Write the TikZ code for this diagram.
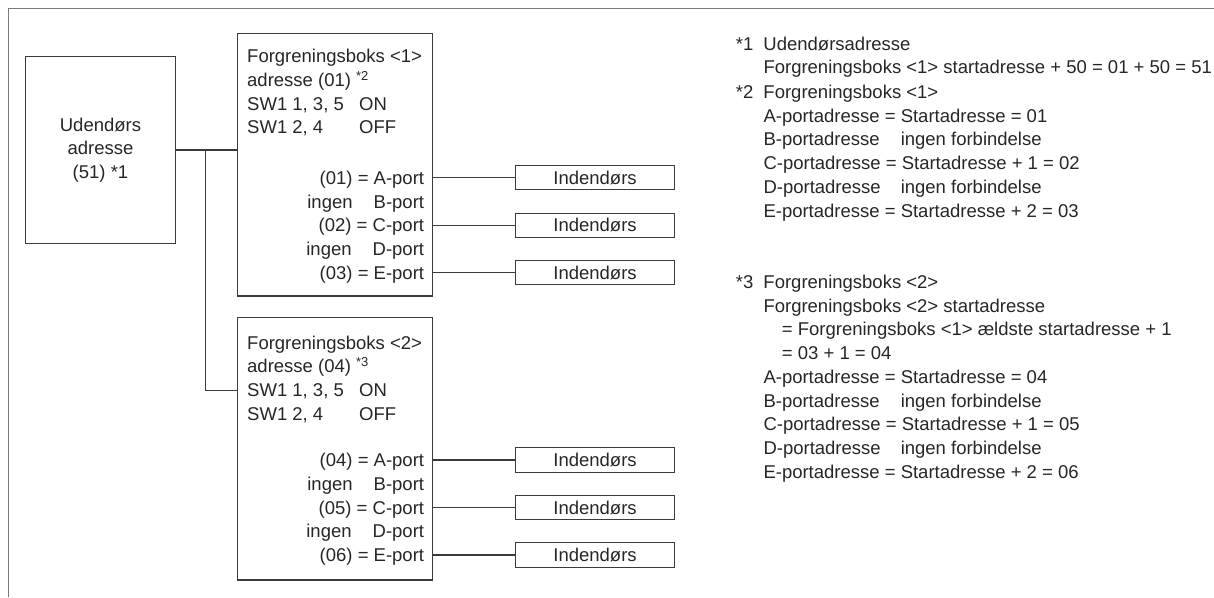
\documentclass[tikz,border=0pt]{standalone}
\usepackage{fontspec}
\setmainfont{Liberation Sans}
\usetikzlibrary{positioning,calc}
\definecolor{frameGray}{HTML}{7A7A7A}
\definecolor{lineGray}{HTML}{3A3A3A}
\definecolor{textGray}{HTML}{262626}
\newcommand{\notekey}[1]{\makebox[27.6pt][l]{#1}}
\newcommand{\noteind}{\hspace*{27.6pt}}
\tikzset{
  frame/.style={draw=frameGray, line width=1.4pt},
  txt/.style={font=\fontsize{18.5}{23.75}\selectfont, inner sep=0pt, text=textGray},
  box/.style={draw=lineGray, line width=1.1pt, rectangle, inner sep=0pt},
  portln/.style={txt, anchor=east, text height=13.2pt, text depth=0pt},
  indoor/.style={box, txt, minimum width=159pt, minimum height=24.3pt},
  link/.style={draw=lineGray, line width=1.1pt}
}

\begin{document}
\begin{tikzpicture}[x=1pt, y=-1pt]
  \useasboundingbox (0,0) rectangle (1214,597);
  \draw[frame] (8.3,597) -- (8.3,8.3) -- (1214,8.3);
  % outdoor unit
  \node[box, txt, align=center, minimum width=149.6pt, minimum height=186.6pt] (ub) at (100.5,150) {Udendørs\\adresse\\(51) *1};
  % branch box 1
  \node[box, minimum width=195pt, minimum height=262.3pt] (b1) at (335.2,164.85) {};
  \node[txt, align=left, anchor=north west] (b1head) at (247,49.1) {Forgreningsboks <1>\\adresse (01) \textsuperscript{*2}\\\makebox[112pt][l]{SW1 1, 3, 5}ON\\\makebox[112pt][l]{SW1 2, 4}OFF};
  \node[portln] (b1a) at (424.3,177.7) {(01) = A-port};
  \node[portln] (b1b) at (424.3,201.45) {ingen\hphantom{ = }B-port};
  \node[portln] (b1c) at (424.3,225.2) {(02) = C-port};
  \node[portln] (b1d) at (424.3,248.95) {ingen\hphantom{ = }D-port};
  \node[portln] (b1e) at (424.3,272.7) {(03) = E-port};
  \node[indoor, right=90.7pt of b1a] (in1a) {Indendørs};
  \node[indoor, right=90.7pt of b1c] (in1c) {Indendørs};
  \node[indoor, right=90.7pt of b1e] (in1e) {Indendørs};
  % branch box 2
  \node[box, minimum width=195pt, minimum height=262.7pt] (b2) at (335.2,448.65) {};
  \node[txt, align=left, anchor=north west] (b2head) at (247,335.4) {Forgreningsboks <2>\\adresse (04) \textsuperscript{*3}\\\makebox[112pt][l]{SW1 1, 3, 5}ON\\\makebox[112pt][l]{SW1 2, 4}OFF};
  \node[portln] (b2a) at (424.3,460) {(04) = A-port};
  \node[portln] (b2b) at (424.3,483.75) {ingen\hphantom{ = }B-port};
  \node[portln] (b2c) at (424.3,507.5) {(05) = C-port};
  \node[portln] (b2d) at (424.3,531.25) {ingen\hphantom{ = }D-port};
  \node[portln] (b2e) at (424.3,555) {(06) = E-port};
  \node[indoor, right=90.7pt of b2a] (in2a) {Indendørs};
  \node[indoor, right=90.7pt of b2c] (in2c) {Indendørs};
  \node[indoor, right=90.7pt of b2e] (in2e) {Indendørs};
  % wiring
  \coordinate (jn) at ($(ub.east)!0.49!(ub.east -| b1.west)$);
  \draw[link] (ub.east) -- (ub.east -| b1.west);
  \draw[link] (jn) |- ([yshift=-73.7pt]b2.north west);
  \draw[link] (b1.east |- b1a) -- (in1a);
  \draw[link] (b1.east |- b1c) -- (in1c);
  \draw[link] (b1.east |- b1e) -- (in1e);
  \draw[link] (b2.east |- b2a) -- (in2a);
  \draw[link] (b2.east |- b2c) -- (in2c);
  \draw[link] (b2.east |- b2e) -- (in2e);
  % notes
  \node[txt, align=left, anchor=north west] (n1) at (735.7,36.4) {\notekey{*1}Udendørsadresse\\
    \noteind Forgreningsboks <1> startadresse + 50 = 01 + 50 = 51};
  \node[txt, align=left, anchor=north west] (n2) at (735.7,84.8) {\notekey{*2}Forgreningsboks <1>\\
    \noteind A-portadresse = Startadresse = 01\\
    \noteind\rlap{B-portadresse}\phantom{A-portadresse = }ingen forbindelse\\
    \noteind C-portadresse = Startadresse + 1 = 02\\
    \noteind\rlap{D-portadresse}\phantom{A-portadresse = }ingen forbindelse\\
    \noteind E-portadresse = Startadresse + 2 = 03};
  \node[txt, align=left, anchor=north west] (n3) at (735.7,274.8) {\notekey{*3}Forgreningsboks <2>\\
    \noteind Forgreningsboks <2> startadresse\\
    \noteind\hspace*{18.4pt}= Forgreningsboks <1> ældste startadresse + 1\\
    \noteind\hspace*{18.4pt}= 03 + 1 = 04\\
    \noteind A-portadresse = Startadresse = 04\\
    \noteind\rlap{B-portadresse}\phantom{A-portadresse = }ingen forbindelse\\
    \noteind C-portadresse = Startadresse + 1 = 05\\
    \noteind\rlap{D-portadresse}\phantom{A-portadresse = }ingen forbindelse\\
    \noteind E-portadresse = Startadresse + 2 = 06};
\end{tikzpicture}
\end{document}
